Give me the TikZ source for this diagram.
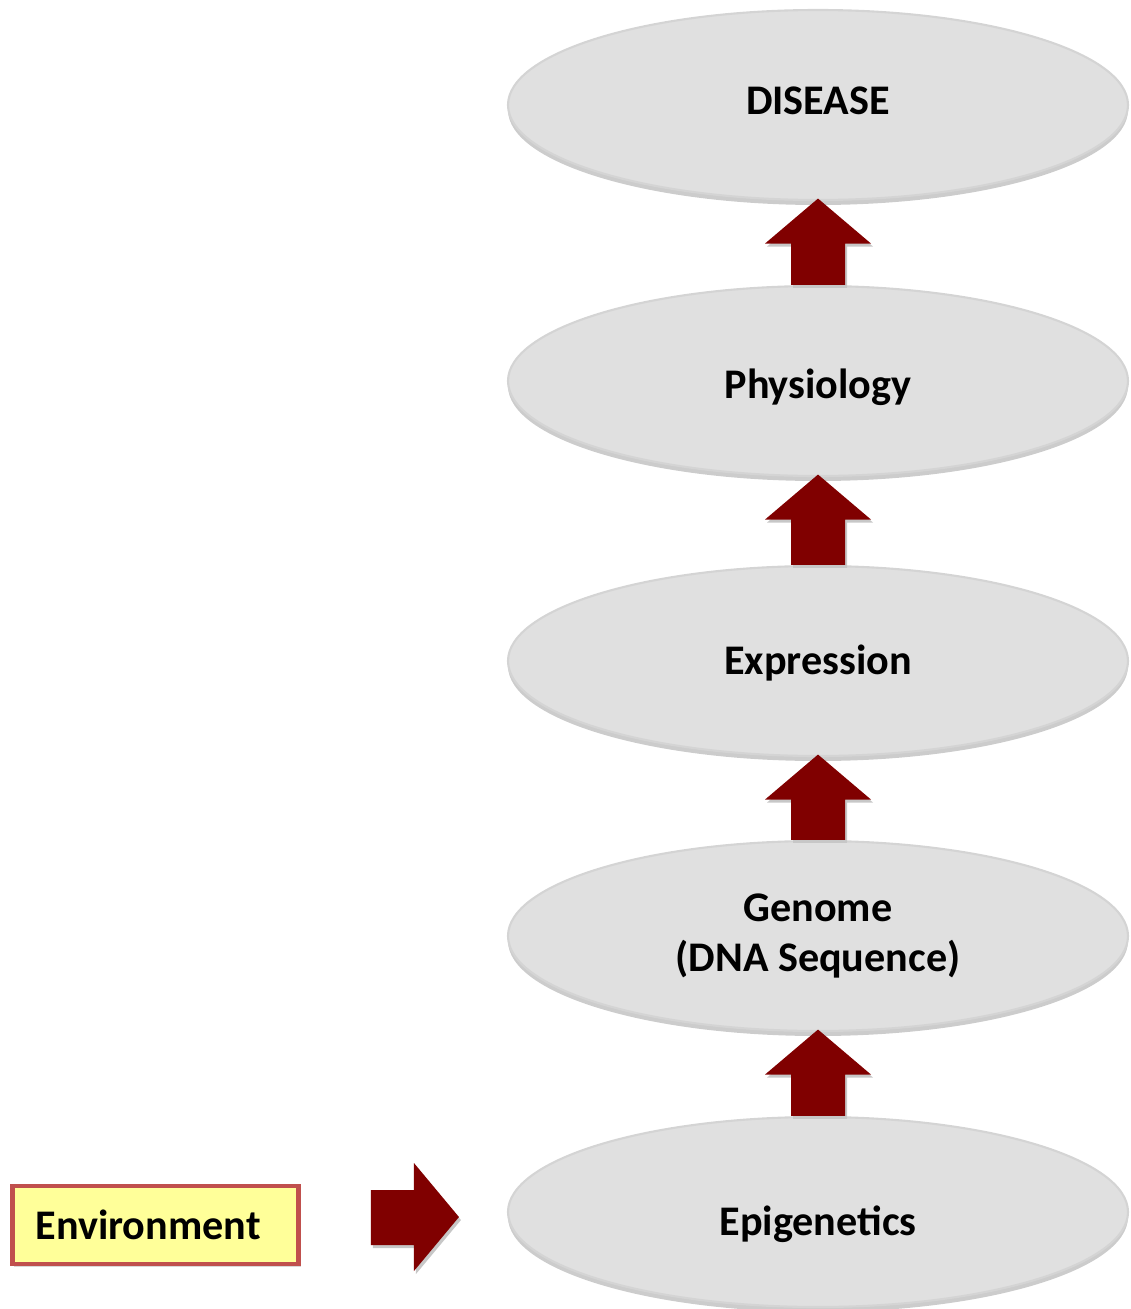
\documentclass[tikz,border=0pt]{standalone}
\usepackage{fontspec}
\setmainfont{Carlito}
\usetikzlibrary{calc,shapes.geometric,shadows}
\definecolor{arrowred}{RGB}{128,0,0}
\definecolor{stagegray}{RGB}{224,224,224}
\definecolor{envyellow}{RGB}{255,255,153}
\definecolor{envborder}{RGB}{192,80,77}
\tikzset{
	stage/.style={ellipse, fill=stagegray, draw=black!17, line width=1.2pt, minimum width=12.4cm, minimum height=3.8cm, inner sep=0pt, align=center, font=\fontsize{24}{28.5}\selectfont\bfseries, drop shadow={shadow xshift=0cm, shadow yshift=-0.1cm, fill=black!20, opacity=1}},
	envbox/.style={rectangle, fill=envyellow, draw=envborder, line width=2.3pt, text width=4.8cm, align=left, inner xsep=0.46cm, minimum height=1.56cm, font=\fontsize{24}{28.5}\selectfont\bfseries, drop shadow={shadow xshift=0.04cm, shadow yshift=-0.05cm, fill=black!15, opacity=1}},
	arrowfill/.style={fill=arrowred, drop shadow={shadow xshift=0.04cm, shadow yshift=-0.06cm, fill=black!22, opacity=1}}
}
% block arrow pointing up, from the top of #2 to the bottom of #1
\def\uparr(#1)(#2){\path[arrowfill] ($(#1.south)+(0,0.05)$) -- ($(#1.south)+(1.06,-0.85)$) -- ($(#1.south)+(0.54,-0.85)$) -- ($(#2.north)+(0.54,0)$) -- ($(#2.north)+(-0.54,0)$) -- ($(#1.south)+(-0.54,-0.85)$) -- ($(#1.south)+(-1.06,-0.85)$) -- cycle;}
% move a label up or down inside its node
\newcommand{\nudge}[2]{\raisebox{#1}[\height][\depth]{#2}}

\begin{document}
\begin{tikzpicture}
			%%%%% START %%%%%
			\useasboundingbox (0, 0) rectangle (22.6, -26.18);
			
			\node[stage] (disease) at (16.36, -2.10) {\nudge{0.08cm}{DISEASE}};
			\node[stage] (physio) at (16.36, -7.62) {\nudge{-0.12cm}{Physiology}};
			\node[stage] (expr) at (16.36, -13.22) {\nudge{-0.04cm}{Expression}};
			\node[stage] (genome) at (16.36, -18.72) {Genome\\(DNA Sequence)};
			\node[stage] (epi) at (16.36, -24.24) {\nudge{-0.24cm}{Epigenetics}};
			
			\uparr(disease)(physio)
			\uparr(physio)(expr)
			\uparr(expr)(genome)
			\uparr(genome)(epi)
			
			\node[envbox] (env) at (3.11, -24.5) {Environment};
			
			% arrow from environment towards epigenetics
			\coordinate (envtip) at ($(epi.west)+(-0.96,-0.1)$);
			\path[arrowfill] (envtip) -- ++(-0.9, 1.08) -- ++(0, -0.54) -- ++(-0.86, 0) -- ++(0, -1.1) -- ++(0.86, 0) -- ++(0, -0.52) -- cycle;
			
			%%%%% END %%%%%
\end{tikzpicture}
\end{document}
